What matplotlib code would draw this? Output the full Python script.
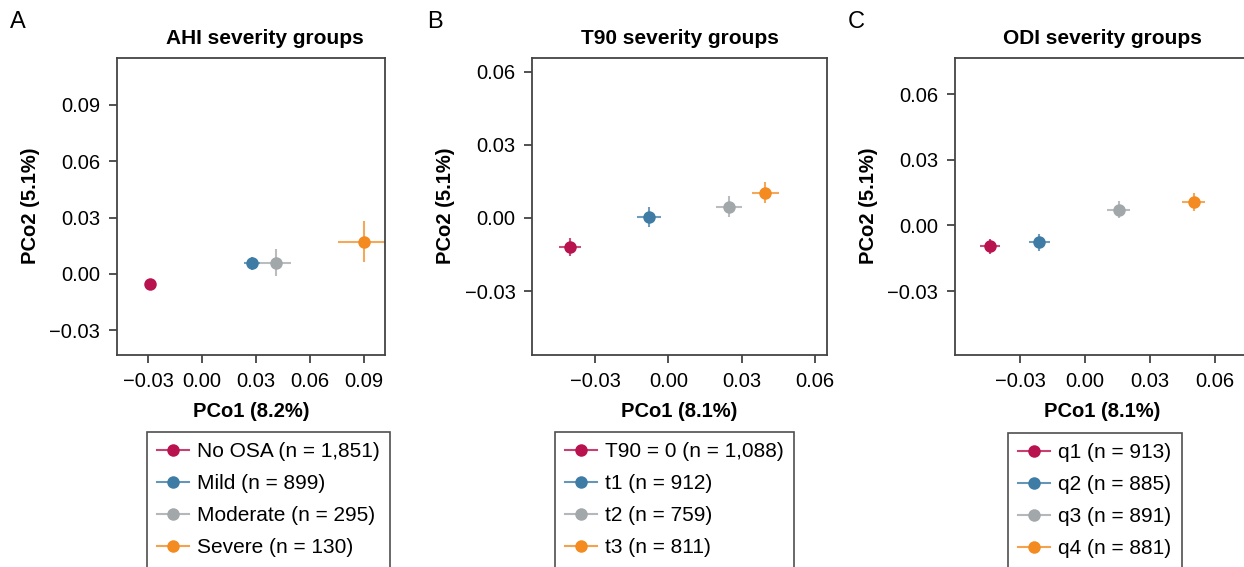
import matplotlib
matplotlib.use("Agg")
import matplotlib.pyplot as plt
from matplotlib.lines import Line2D

plt.rcParams['font.family'] = ['Liberation Sans', 'DejaVu Sans']

colors = ['#B8124F', '#3E7CA6', '#A2A7AA', '#F38B21']

# panel A - AHI
ahi_labels = ['No OSA (n = 1,851)', 'Mild (n = 899)', 'Moderate (n = 295)', 'Severe (n = 130)']
ahi_x = [-0.0289, 0.0276, 0.0410, 0.0898]
ahi_y = [-0.0057, 0.0055, 0.0059, 0.0172]
ahi_xerr = [0.0017, 0.0044, 0.0087, 0.0144]
ahi_yerr = [0.0015, 0.0036, 0.0071, 0.0109]

# panel B - T90
t90_labels = ['T90 = 0 (n = 1,088)', 't1 (n = 912)', 't2 (n = 759)', 't3 (n = 811)']
t90_x = [-0.0402, -0.0078, 0.0247, 0.0397]
t90_y = [-0.0118, 0.0005, 0.0045, 0.0104]
t90_xerr = [0.0044, 0.0049, 0.0054, 0.0054]
t90_yerr = [0.0036, 0.0041, 0.0043, 0.0044]

# panel C - ODI
odi_labels = ['q1 (n = 913)', 'q2 (n = 885)', 'q3 (n = 891)', 'q4 (n = 881)']
odi_x = [-0.0438, -0.0211, 0.0155, 0.0503]
odi_y = [-0.0096, -0.0076, 0.0072, 0.0106]
odi_xerr = [0.0048, 0.0048, 0.0051, 0.0053]
odi_yerr = [0.0036, 0.0039, 0.0038, 0.0040]

ticks = [-0.03, 0.00, 0.03, 0.06, 0.09]

W, H = 1244, 567
fig = plt.figure(figsize=(W / 100, H / 100), dpi=100)


def px_rect(left, top, right, bottom):
    return [left / W, 1 - bottom / H, (right - left) / W, (bottom - top) / H]


panels = [
    dict(rect=px_rect(117, 57.5, 385, 355), title='AHI severity groups', tx=0.55, letter='A', lx=10,
         x=ahi_x, y=ahi_y, xerr=ahi_xerr, yerr=ahi_yerr, labels=ahi_labels,
         xlim=(-0.0472, 0.1017), ylim=(-0.0433, 0.1153), xlab='PCo1 (8.2%)',
         xt=ticks, yt=ticks, leg=(147, 432)),
    dict(rect=px_rect(532.3, 57.5, 826.7, 355), title='T90 severity groups', tx=0.5, letter='B', lx=427,
         x=t90_x, y=t90_y, xerr=t90_xerr, yerr=t90_yerr, labels=t90_labels,
         xlim=(-0.0557, 0.0648), ylim=(-0.0562, 0.0658), xlab='PCo1 (8.1%)',
         xt=ticks[:4], yt=ticks[:4], leg=(555, 432)),
    dict(rect=px_rect(955, 57.5, 1250, 355), title='ODI severity groups', tx=0.5, letter='C', lx=848,
         x=odi_x, y=odi_y, xerr=odi_xerr, yerr=odi_yerr, labels=odi_labels,
         xlim=(-0.06, 0.0762), ylim=(-0.0592, 0.0767), xlab='PCo1 (8.1%)',
         xt=ticks[:4], yt=ticks[:4], leg=(1008, 433)),
]

for p in panels:
    ax = fig.add_axes(p['rect'])
    for i in range(4):
        ax.errorbar(p['x'][i], p['y'][i], xerr=p['xerr'][i], yerr=p['yerr'][i],
                    fmt='o', color=colors[i], ms=9, mec='none',
                    ecolor=matplotlib.colors.to_rgba(colors[i], 0.75), elinewidth=1.5, capsize=0)
    ax.set_xlim(*p['xlim'])
    ax.set_ylim(*p['ylim'])
    ax.set_xticks(p['xt'])
    ax.set_yticks(p['yt'])
    fmt = lambda v: f'{v:.2f}'.replace('-', '\u2212') if abs(v) > 1e-9 else '0.00'
    ax.set_xticklabels([fmt(v) for v in p['xt']])
    ax.set_yticklabels([fmt(v) for v in p['yt']])
    ax.tick_params(direction='out', length=6, width=1.2, color='#333333', labelsize=14.5, pad=6)
    for s in ax.spines.values():
        s.set_color('#444444')
        s.set_linewidth(1.3)
    ax.set_xlabel(p['xlab'], fontsize=14.5, fontweight='bold', labelpad=8)
    ax.set_ylabel('PCo2 (5.1%)', fontsize=14.5, fontweight='bold', labelpad=7)
    ax.set_title(p['title'], fontsize=15, fontweight='bold', pad=10, x=p['tx'])
    fig.text(p['lx'] / W, 1 - 22 / H, p['letter'], fontsize=17, va='center', ha='left')

    handles = [Line2D([0], [0], color=matplotlib.colors.to_rgba(colors[i], 0.8), lw=1.5,
                      marker='o', ms=9, mfc=colors[i], mec='none') for i in range(4)]
    lx, ly = p['leg']
    leg = fig.legend(handles, p['labels'], loc='upper left',
                     bbox_to_anchor=(lx / W, 1 - ly / H), bbox_transform=fig.transFigure,
                     fontsize=15, frameon=True, fancybox=False, edgecolor='#222222',
                     handlelength=1.5, handletextpad=0.4, labelspacing=0.62,
                     borderpad=0.5, borderaxespad=0)
    leg.get_frame().set_linewidth(1.2)

fig.savefig('out.png', dpi=100)
